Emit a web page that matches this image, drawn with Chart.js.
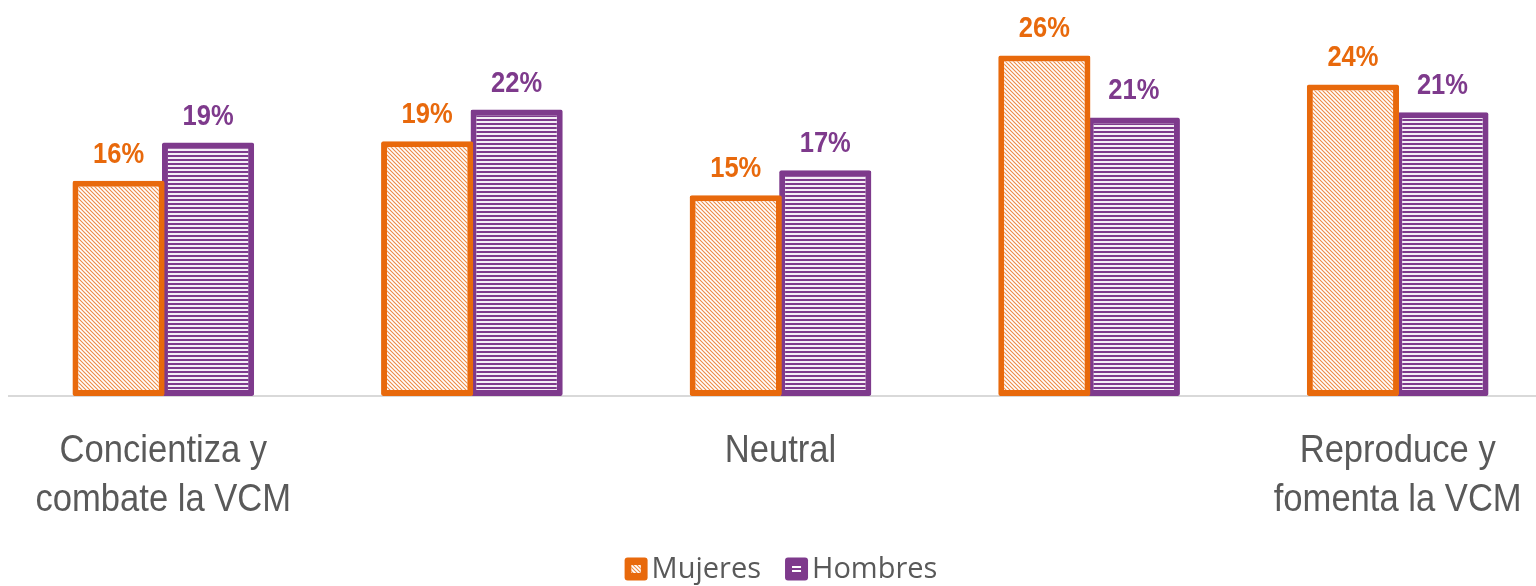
<!DOCTYPE html>
<html>
<head>
<meta charset="utf-8">
<script src="https://cdn.jsdelivr.net/npm/chart.js@4/dist/chart.umd.min.js"></script>
<style>
    html, body { margin: 0; padding: 0; background: #fff; overflow: hidden; }
    #wrap { width: 1552px; height: 586px; }
</style>
</head>
<body>
<div id="wrap"><canvas id="grafica" width="1552" height="586"></canvas></div>
<script>
/* =========================
    DATOS
========================= */
const categorias = [
    ["Concientiza y", "combate la VCM"],
    "",
    "Neutral",
    "",
    ["Reproduce y", "fomenta la VCM"]
];
const mujeres = [16.3, 19.3, 15.2, 25.8, 23.6];
const hombres = [19.2, 21.7, 17.1, 21.1, 21.5];
const etiquetaMujeres = ["16%", "19%", "15%", "26%", "24%"];
const etiquetaHombres = ["19%", "22%", "17%", "21%", "21%"];

const NARANJA = "#E8690C";
const MORADO = "#7E3A8C";

/* =========================
    PATRONES
========================= */
function patronDiagonal(color) {
    const c = document.createElement("canvas");
    c.width = 4; c.height = 4;
    const g = c.getContext("2d");
    g.fillStyle = "#fff";
    g.fillRect(0, 0, 4, 4);
    g.strokeStyle = color;
    g.lineWidth = 1.1;
    g.beginPath();
    g.moveTo(-1, -1); g.lineTo(5, 5);
    g.moveTo(-1, 3); g.lineTo(1, 5);
    g.moveTo(3, -1); g.lineTo(5, 1);
    g.stroke();
    return g.createPattern(c, "repeat");
}

function patronHorizontal(color) {
    const c = document.createElement("canvas");
    c.width = 4; c.height = 4;
    const g = c.getContext("2d");
    g.fillStyle = color;
    g.fillRect(0, 0, 4, 4);
    g.fillStyle = "#f4eef6";
    g.fillRect(0, 1, 4, 2);
    return g.createPattern(c, "repeat");
}

const fondoMujeres = patronDiagonal("#EE8A45");
const fondoHombres = patronHorizontal(MORADO);

// Texto "estrecho": Liberation Sans comprimido en horizontal
function textoEstrecho(ctx, txt, x, y, escala) {
    ctx.save();
    ctx.translate(x, y);
    ctx.scale(escala, 1);
    ctx.fillText(txt, 0, 0);
    ctx.restore();
}

/* =========================
    PLUGINS
========================= */
const etiquetas = {
    id: "etiquetas",
    afterDatasetsDraw(chart) {
        const ctx = chart.ctx;
        ctx.save();
        ctx.font = "bold 29px 'Liberation Sans', Arial, sans-serif";
        ctx.textAlign = "center";
        ctx.textBaseline = "alphabetic";
        const textos = [etiquetaMujeres, etiquetaHombres];
        chart.data.datasets.forEach((ds, i) => {
            ctx.fillStyle = i === 0 ? NARANJA : MORADO;
            chart.getDatasetMeta(i).data.forEach((bar, j) => {
                textoEstrecho(ctx, textos[i][j], bar.x, bar.y - 18, 0.88);
            });
        });
        ctx.restore();
    }
};

const categoriasEje = {
    id: "categoriasEje",
    afterDraw(chart) {
        const ctx = chart.ctx;
        const escalaX = chart.scales.x;
        ctx.save();
        ctx.font = "38px 'Liberation Sans', Arial, sans-serif";
        ctx.textAlign = "center";
        ctx.textBaseline = "alphabetic";
        ctx.fillStyle = "#595959";
        categorias.forEach((cat, i) => {
            const lineas = Array.isArray(cat) ? cat : [cat];
            const x = escalaX.getPixelForTick(i);
            lineas.forEach((l, k) => {
                textoEstrecho(ctx, l, x, 462 + k * 49, 0.91);
            });
        });
        ctx.restore();
    }
};

const leyenda = {
    id: "leyenda",
    afterDraw(chart) {
        const ctx = chart.ctx;
        ctx.save();
        ctx.font = "29px 'Open Sans', sans-serif";
        ctx.textBaseline = "middle";
        const items = [
            { txt: "Mujeres", color: NARANJA, tipo: "d" },
            { txt: "Hombres", color: MORADO, tipo: "h" }
        ];
        const caja = 23, sep = 4, gap = 24;
        let total = 0;
        items.forEach(it => {
            it.w = caja + sep + ctx.measureText(it.txt).width;
            total += it.w;
        });
        total += gap;
        let x = 781 - total / 2;
        const y = 569;
        items.forEach(it => {
            ctx.fillStyle = it.color;
            ctx.beginPath();
            ctx.roundRect(x, y - caja / 2, caja, caja, 3);
            ctx.fill();
            if (it.tipo === "d") {
                ctx.fillStyle = "#fff";
                ctx.fillRect(x + 7, y - 4, 9, 8);
                ctx.fillStyle = fondoMujeres;
                ctx.fillRect(x + 7, y - 4, 9, 8);
            } else {
                ctx.fillStyle = "#fff";
                ctx.fillRect(x + 7, y - 3, 9, 2);
                ctx.fillRect(x + 7, y + 1, 9, 2);
            }
            ctx.fillStyle = "#595959";
            ctx.fillText(it.txt, x + caja + sep, y + 1);
            x += it.w + gap;
        });
        ctx.restore();
    }
};

/* =========================
    GRAFICA
========================= */
new Chart(document.getElementById("grafica"), {
    type: "bar",
    data: {
        labels: categorias,
        datasets: [
            {
                label: "Mujeres",
                data: mujeres,
                backgroundColor: fondoMujeres,
                borderColor: NARANJA,
                borderWidth: 6,
                borderRadius: 2,
                borderSkipped: false
            },
            {
                label: "Hombres",
                data: hombres,
                backgroundColor: fondoHombres,
                borderColor: MORADO,
                borderWidth: 6,
                borderRadius: 2,
                borderSkipped: false
            }
        ]
    },
    options: {
        responsive: false,
        animation: false,
        layout: { padding: { left: 9, right: 0, top: 0, bottom: 0 } },
        datasets: {
            bar: { barPercentage: 1.03, categoryPercentage: 0.58 }
        },
        plugins: {
            legend: { display: false },
            tooltip: { enabled: false }
        },
        scales: {
            x: {
                grid: { display: false },
                border: { display: true, color: "#d9d9d9", width: 2 },
                ticks: { display: false },
                afterFit(scale) { scale.height = 190; }
            },
            y: {
                display: false,
                min: 0,
                max: 30
            }
        }
    },
    plugins: [etiquetas, categoriasEje, leyenda]
});
</script>
</body>
</html>
